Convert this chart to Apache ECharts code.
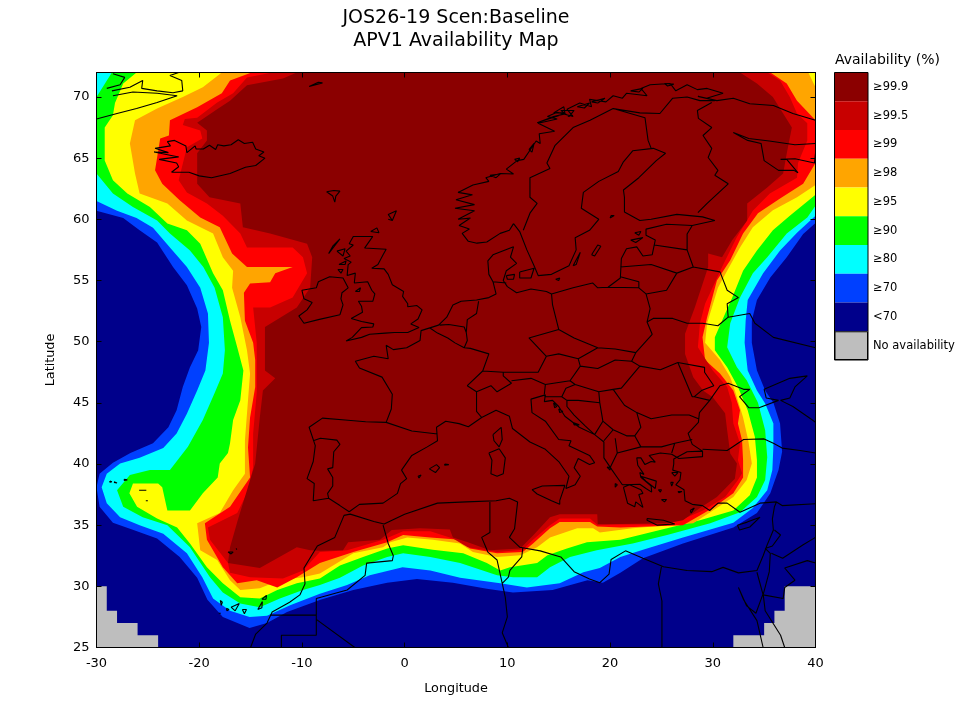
<!DOCTYPE html>
<html>
<head>
<meta charset="utf-8">
<title>APV1 Availability Map</title>
<script src="https://cdn.jsdelivr.net/npm/echarts@6/dist/echarts.min.js"></script>
<style>
html, body { margin: 0; padding: 0; background: #fff; }
#main { width: 960px; height: 720px; }
</style>
</head>
<body>
<div id="main"></div>
<script>
var lonTicks = [-30, -20, -10, 0, 10, 20, 30, 40];
var latTicks = [25, 30, 35, 40, 45, 50, 55, 60, 65, 70];

var legendLabels = ['≥99.9', '≥99.5', '≥99', '≥98', '≥95', '≥90', '≥80', '≥70', '<70', 'No availability'];
var legendColors = ['#8b0000', '#c80000', '#ff0000', '#ffa500', '#ffff00', '#00ff00', '#00ffff', '#0040ff', '#00008b', '#bebebe'];

// contour regions, lon/lat
var band70 = [[-30,60.7],[-27.4,60.1],[-25.8,59.1],[-24.1,58.1],[-22.55,56.1],[-21.2,54.6],[-20.2,52.7],[-19.8,51.2],[-20.1,49.3],[-20.9,47.9],[-21.6,46.3],[-22.2,44.4],[-23,43],[-24.5,41.7],[-26.7,40.9],[-28.4,40.1],[-29.7,39.2],[-30,38.1],[-29.7,36.5],[-28.4,35.2],[-26.4,34.6],[-24.1,33.9],[-21.9,32.4],[-20.2,30.7],[-19.2,28.9],[-17.7,27.5],[-15.1,26.6],[-13.4,27],[-11.45,27.9],[-8.2,28.9],[-5,29.7],[-1.7,30.3],[1.2,30.6],[4.7,30.3],[8,29.8],[10.55,29.5],[14.4,29.7],[17.8,30.5],[19.3,30.3],[21,31.1],[23.2,32.3],[27.1,33.5],[32,34.8],[34.3,36],[35.6,37.6],[36.4,39.5],[36.75,41],[36.55,43.3],[35.9,45],[35.1,46],[34.3,47.65],[33.8,49.9],[33.8,51.7],[34.3,53.4],[35.6,55.25],[37.2,56.9],[38.8,58.8],[40,59.7],[40,72],[-30,72]];
var band80 = [[-30,61.5],[-28,60.7],[-26.1,60.1],[-24.5,59.3],[-22.85,57.7],[-21.2,56.1],[-19.9,54.4],[-19.15,52.3],[-19.05,49.9],[-19.4,47.65],[-20.2,46],[-21.2,44.1],[-22.2,42.5],[-23.5,41.3],[-25.8,40.5],[-27.7,40.05],[-29,39.2],[-29.5,38.1],[-29,36.8],[-27.7,35.65],[-25.8,35],[-23.5,34.3],[-21.2,32.7],[-19.7,30.75],[-18.65,29],[-17,28],[-15.1,27.5],[-13.4,27.6],[-11.15,28.45],[-8.25,29.4],[-5.6,30.1],[-3.4,30.9],[-0.2,31.55],[2.5,31.3],[5.4,30.7],[9.3,30.25],[11.9,29.9],[15.1,30.25],[17.4,31.15],[19,31.5],[21,32.4],[23.2,33],[27.1,34],[32,35.2],[33.9,36.4],[35.3,37.85],[35.8,39.5],[35.9,41.4],[35.9,43.3],[35.1,44.95],[34.3,46],[33.4,47.65],[33.1,49.9],[33.2,51.7],[33.4,53.4],[34.9,55.6],[36.55,57.45],[38.2,58.9],[40,60.3],[40,72],[-30,72]];
var band90 = [[-30,63.75],[-28.4,62.1],[-26.45,61],[-24.1,59.9],[-22.85,58.85],[-20.9,57.45],[-19.6,56.1],[-18.5,54.4],[-17.7,52],[-17.5,49.3],[-17.7,47.4],[-18.5,45.8],[-19.65,43.6],[-21.1,41.4],[-22.85,39.5],[-24.8,39.5],[-26.75,39.1],[-28,37.85],[-27.4,36.5],[-25.5,35.65],[-23.1,35],[-20.9,33.2],[-18.95,30.75],[-17.7,29.5],[-16,28.6],[-14.1,28.3],[-12.15,29],[-9.9,29.7],[-8.25,30.1],[-6.3,30.7],[-4.05,31.7],[-1.7,32.4],[-0.15,32.7],[2.5,32.4],[5.4,31.9],[9,30.9],[10.55,30.75],[12.9,30.75],[14.15,31.55],[16.1,32.4],[18.7,32.95],[22.2,33.5],[25.55,34.2],[29.75,35.15],[32.65,36.05],[34.3,37.3],[35.1,38.7],[35.3,40.55],[35.1,42.75],[34.4,45],[33.3,46.85],[32.35,47.9],[31.4,49.55],[31.7,51.5],[32.65,53.6],[33.9,55.6],[35.3,56.9],[37.2,58.85],[39.2,60.15],[40,61.1],[40,72],[-28.5,72],[-30,70]];
var band95 = [[-26.1,72],[-27.4,71.1],[-28.2,69.5],[-28.4,68.5],[-29.2,67.5],[-29.2,64.8],[-28.4,63.2],[-27,62.1],[-24.8,61],[-23.1,59.65],[-21.2,59.1],[-19.9,58],[-18.65,55.6],[-17.7,54.2],[-17,51.7],[-16.3,49.55],[-15.7,47.65],[-16,45.2],[-16.7,43.6],[-17,41.7],[-17.2,40.9],[-18,40.05],[-18.2,38.9],[-19.65,37.6],[-20.9,36.2],[-23.1,36.2],[-23.6,38.1],[-24,38.4],[-26.45,38.4],[-26.8,37.6],[-26.05,36.5],[-24.1,35.55],[-22.15,34.8],[-20.9,33.5],[-19.25,31.55],[-17.7,30.25],[-16,29.1],[-14.1,29],[-12.4,29.7],[-10.5,30.25],[-8.25,30.65],[-6.3,31.7],[-4.05,32.4],[-1.7,33.1],[-0.15,33.35],[2.75,33],[5.7,32.7],[8,31.9],[9.3,31.3],[10.25,31.55],[12.9,31.9],[13.9,32.55],[15.8,33.1],[17.75,33.6],[21,33.8],[25.55,34.75],[28.75,35.4],[32,36.2],[33.6,37.45],[34.3,38.9],[34.3,40.3],[34.1,42.2],[33.4,44.4],[32.45,46.3],[31.4,47.9],[30.2,49.3],[30.2,50.35],[30.9,51.7],[31.9,53.6],[32.95,55.8],[34.3,57.45],[35.85,59.1],[37.5,60.3],[40,62],[40,72]];
var band98 = [[-17.8,72],[-19.65,70.8],[-21.6,70],[-24.1,69.05],[-26.25,68.1],[-26.75,66.2],[-26.25,63.75],[-25.8,62.1],[-23.1,61.3],[-21.2,59.9],[-18.65,58.85],[-17.7,56.9],[-16.7,55.8],[-16.8,54.4],[-16,52],[-15.35,49.3],[-15.05,47.4],[-15.25,45.2],[-15.55,41.95],[-15.55,39.2],[-16.7,37.85],[-18,36],[-20.2,35.15],[-19.9,32.95],[-18.25,32.15],[-17,30.5],[-16,29.7],[-14.1,29.85],[-12.15,30.5],[-9.9,30.75],[-8.25,31.05],[-7.25,31.55],[-5,32.7],[-2.1,33.2],[-1.4,33.6],[0.25,34],[2.75,33.8],[5.4,33.5],[6.65,32.8],[9,32.4],[11.25,32.55],[12.9,33.2],[14.15,34],[16.8,34.75],[18.35,34.75],[19,34.4],[22.2,34.75],[28.1,35.15],[29.75,36.05],[32,37.3],[33.3,38.7],[33.8,40.05],[33.45,41.95],[32.95,43.8],[32.15,46],[31.7,47.1],[30.7,48.5],[29.25,49.9],[29.45,51.5],[30.5,54.4],[31.4,55.8],[32.65,57.7],[33.9,59.35],[35.85,60.75],[38.2,61.8],[40,62.8],[40,70.8],[39.3,72]];
var band99 = [[-14.9,72],[-17,71.35],[-17.8,70.3],[-20.2,69.15],[-22.85,68.1],[-22.95,66.85],[-23.8,66.6],[-24.3,64],[-23.6,62.9],[-21.9,61.55],[-19.9,60.15],[-18,59.35],[-16.8,57.2],[-15.35,56.1],[-10.9,56.1],[-12.6,55.6],[-13.1,54.85],[-15.05,54.75],[-15.65,54],[-15.55,51.7],[-14.75,49.9],[-14.55,48.5],[-14.55,46.3],[-15.05,43.8],[-15.25,41.35],[-15.05,38.9],[-17,36.5],[-19.45,35.15],[-19.25,33.8],[-17.7,31.55],[-16.3,30.25],[-14.4,30.5],[-12.4,29.9],[-10.5,30.75],[-8.25,31.9],[-5,32.8],[-1.7,33.6],[-0.15,34.2],[2.5,34],[5.4,33.8],[6.35,33.1],[9,32.7],[11.5,32.8],[12.5,33.5],[14.15,34.75],[15.1,35.25],[18.05,35.25],[18.75,34.9],[21,34.8],[27.1,35],[28.45,35.65],[30,36.4],[32,37.6],[32.95,38.9],[32.95,40.3],[32.85,41.95],[32.45,43.3],[32.65,44.4],[32,46],[30.7,47.4],[29.25,48.5],[29,50.35],[29.45,52],[30.4,55],[31.7,56.65],[32.95,58.85],[34.4,60.5],[36.55,61.7],[38.8,62.9],[40,64.6],[40,68.1],[38.2,69.7],[37.2,71.1],[35.6,72]];
var band995 = [[-12.9,72],[-15.35,71.6],[-16.7,70.3],[-18.25,69.55],[-20.2,68.3],[-21.4,68.2],[-21.6,67.7],[-19.9,67.25],[-19.7,66.6],[-21.2,65.9],[-22,63.2],[-21.2,62.2],[-19.25,61.3],[-17.7,60.3],[-16,58.85],[-15.35,57.7],[-10.9,57.7],[-9.9,56.9],[-9.5,55.6],[-10.9,53.6],[-13.1,52.8],[-14.75,52.8],[-14.4,49.9],[-14.4,45.8],[-14.75,42.5],[-14.75,39.7],[-15.35,37.6],[-16.3,36],[-19.15,34.8],[-18.95,33.8],[-17.2,31.9],[-17,31.1],[-15.05,30.75],[-11.85,30.65],[-9.9,31.3],[-8.25,32.8],[-5.6,32.95],[-2.1,33.8],[-0.15,34.5],[2.5,34.5],[4.7,33.9],[6.15,33.2],[9,32.8],[11.5,33],[12.5,33.8],[14.15,35],[15.1,35.55],[18.05,35.55],[18.8,35],[21,35.05],[25.55,35.05],[27.5,35.65],[29.05,36.2],[31.2,37.3],[32.45,38.7],[32.85,39.25],[32.45,40.3],[32.65,41.7],[32,43.3],[31.85,45],[31.4,46.3],[30,47.65],[28.55,49.55],[28.75,51.5],[29.25,53.1],[30.9,56.1],[32.35,58.55],[33.9,60.7],[35.55,62.1],[38.2,63.4],[38.3,64.6],[39.2,66.45],[39.2,67.85],[38.2,68.65],[37.5,70],[36.55,71.35],[35.3,72]];
var band999 = [[-10.5,72],[-11.85,71.5],[-15.35,70.95],[-17,69.7],[-18.15,69.05],[-20.2,67.9],[-19.25,67.25],[-19.25,66.45],[-20.2,65.4],[-20.2,62.9],[-19,61.8],[-16,61.3],[-15.75,59.35],[-13.1,58.85],[-9.5,58],[-9,56.9],[-9.2,54.4],[-10.5,52.8],[-13.6,51.2],[-13.6,47.65],[-12.6,47],[-13.8,46],[-14.1,43.8],[-14.55,40.05],[-16.25,35.4],[-17,33.2],[-17.2,31.9],[-14.1,31.5],[-10.5,33.2],[-9.2,32.95],[-8.25,32.9],[-6,32.95],[-5.5,33.6],[-2.4,33.8],[-1.25,34.6],[1.5,34.75],[4.4,34.65],[4.7,34],[6.15,33.6],[8.3,32.95],[11.25,33.1],[12.5,34.15],[14.15,35.65],[15.1,35.9],[18.75,35.9],[18.8,35.1],[21,35.1],[25.55,35.15],[27.1,35.4],[28.75,36.4],[30.4,37.3],[32.15,38.8],[32.35,40.05],[31.7,40.85],[31.4,42.75],[31.2,44.15],[30,45.45],[29.05,46],[28.1,47.1],[27.3,49],[27.3,50.65],[28.25,52.8],[29.55,56.1],[29.55,57.2],[30.9,56.9],[31.9,58.3],[33.35,59.9],[33.35,61.3],[35.3,62.6],[36.85,63.75],[37.25,65.6],[37.7,67.5],[36.85,68.65],[35.85,70],[34.3,71.1],[32.65,72]];
var noAvailWest = [[-30,25],[-30,30],[-29,30],[-29,28],[-28,28],[-28,27],[-26,27],[-26,26],[-24,26],[-24,25]];
var noAvailEast = [[40,25],[40,30],[37,30],[37,28],[36,28],[36,27],[35,27],[35,26],[32,26],[32,25]];

var regions = [band70, band80, band90, band95, band98, band99, band995, band999, noAvailWest, noAvailEast];
var regionColors = ['#0040ff', '#00ffff', '#00ff00', '#ffff00', '#ffa500', '#ff0000', '#c80000', '#8b0000', '#bebebe', '#bebebe'];

// coastlines
var coastAtlantic = [[-5.4,36.1],[-6.3,36.6],[-7.4,37.2],[-8.9,37],[-8.8,38.4],[-9.5,38.8],[-8.9,40.2],[-8.7,41.5],[-9.3,43],[-8,43.75],[-5.8,43.6],[-3.8,43.45],[-1.8,43.4],[-1.3,44.5],[-1.2,45.7],[-2.2,47.1],[-4.4,47.85],[-4.8,48.4],[-3,48.8],[-1.6,48.6],[-1.8,49.7],[-1.1,49.35],[0.2,49.5],[1.5,50.1],[1.6,50.9],[3.3,51.35],[4.1,52],[4.7,53],[5.5,53.3],[7,53.4],[8.2,53.6],[8.9,53.9],[8.6,54.9],[8.2,55.5],[8.1,56.6],[8.6,57.1],[10.6,57.75],[10.3,56.9],[10.9,56.4],[9.9,55.8],[9.6,55],[10,54.5],[10.9,54],[12.3,54.3],[13.8,54.1],[14.3,53.9],[16.4,54.4],[18.3,54.8],[18.8,54.4],[19.8,54.45],[21,55.2],[21.1,56.8],[21.6,57.6],[22.6,57.75],[23.2,57],[24.1,57.1],[24.4,58.3],[23.5,58.7],[23.5,59.2],[25.5,59.6],[28,59.5],[30.2,59.9],[29,60.2],[26.5,60.4],[24,60],[22.9,59.9],[21.4,60.6],[21.4,61.8],[21.3,62.4],[22.8,63.4],[24.5,64.8],[25.4,65.4],[24.2,65.8],[22.2,65.6],[21.3,64.7],[20.8,63.9],[18.9,63.1],[17.4,62.2],[17.2,60.9],[18.9,60],[18,59.1],[16.6,58.5],[16.7,57.5],[16,56.2],[14.3,55.5],[13,55.4],[12.6,56.2],[11.9,57.5],[11.2,59],[10.6,59.65]];
var coastNorway = [[10.6,59.65],[10.2,59.1],[9.3,58.85],[8,58.15],[7.05,58.05],[6.2,58.2],[5.6,58.85],[6.3,59.2],[5.3,59.5],[6.4,60.1],[5.2,60],[6.8,60.7],[4.9,60.9],[6.8,61.2],[5,61.6],[6.6,62],[5.2,62.2],[6.65,62.8],[8.2,63.1],[7.9,63.4],[9.3,63.75],[10.6,63.7],[9.9,64.1],[10.95,64.8],[11.6,64.9],[12.2,65.65],[12.8,66.4],[13.2,66.2],[13.1,67],[14.6,67.2],[13,67.85],[14.85,68.2],[13.9,68.4],[14.85,68.75],[16.4,68.4],[15.8,69],[17.05,69.5],[18.2,69.2],[18,69.8],[19.6,69.6],[20.3,70.1],[21.2,69.9],[21.6,70.3],[23.6,70.1],[23,70.7],[23.9,71],[25.85,71.1],[26.4,70.5],[27.5,71],[28.5,70.6],[29.45,70.7],[31,70.3],[29.4,69.9],[28.55,70.05],[30.4,69.7],[32,69.9],[33.6,69.45],[35.9,69.3],[37.8,68.65],[40,68.1]];
var coastWhiteSea = [[40,66.2],[38,66.1],[35.5,66.4],[33.5,66.6],[32,67.1],[33.4,66.45],[34.7,66.2],[35,64.8],[36.4,64],[37.9,64],[38.3,63.8],[37.2,64.9],[36.6,64.9],[38,64.95],[39.9,64.6],[40,65.4]];
var coastMed = [[-5.4,36.1],[-4.4,36.7],[-2.1,36.8],[-0.7,37.6],[-0.4,38.4],[0.2,38.8],[-0.3,39.5],[0.7,40.7],[2.2,41.4],[3.2,41.9],[3.1,43],[4,43.5],[5.3,43.3],[6.2,43.05],[7.5,43.8],[8.9,44.4],[10.2,43.9],[10.5,42.9],[12.2,41.8],[13.7,41.2],[15,40.2],[16,39],[15.7,38],[16.6,38.3],[17.1,39],[16.5,39.7],[16.9,40.45],[18,39.95],[18.5,40.1],[18,40.7],[16,41.5],[16.2,41.9],[15,42],[13.7,43.5],[12.4,44.2],[12.3,45.3],[13.7,45.65],[13.6,45.1],[14.4,45.2],[15,44.7],[15.6,43.9],[17,43],[18.5,42.4],[19.4,41.8],[19.4,40.5],[20.2,39.5],[20.7,38.9],[21.2,38.3],[22.9,38.35],[23.5,38],[24.05,37.7],[24,38.2],[23,38.9],[22.9,39.3],[23.3,39.15],[22.7,39.9],[22.6,40.5],[23,40.5],[23.4,39.95],[24,40.2],[24.4,40.15],[23.8,40.7],[24.9,40.9],[26,40.8],[26.7,40.45],[29,40.6],[29,41.05],[27.5,41],[26.2,40.4],[26.2,40],[26.1,39.5],[26.9,39.3],[26.8,38.7],[26.4,38.3],[27.2,37.9],[27.3,37],[28,36.7],[29,36.6],[29.7,36.2],[30.5,36.8],[31.4,36.8],[32.65,36.05],[34.6,36.8],[36.2,36.9],[36,36.5],[35.8,35.5],[35.9,34.6],[35.3,33.4],[34.9,32.5],[34.3,31.3],[32.5,31.1],[31,31.55],[29.9,31.2],[27.5,31.3],[25.2,31.6],[23.2,32.3],[21.5,32.9],[20.1,32.2],[19.9,31],[19,30.3],[18,30.6],[16.5,31.2],[15.2,32.4],[13.2,32.9],[11.2,33.2],[10.2,34],[10.7,34.7],[11,36.9],[10.2,37.2],[8.9,37],[6,36.9],[3.2,36.8],[0,35.9],[-2,35.1],[-3,35.3],[-5.3,35.9],[-5.9,35.8],[-6.8,34],[-8.5,33.3],[-9.8,31.5],[-9.7,30.2],[-10.2,29.3],[-11.2,28.7],[-12.9,27.9],[-13.4,27],[-14.5,26.1],[-15,25]];
var coastBlackSea = [[29,41.05],[28,41.6],[27.6,42.5],[28.6,43.4],[28.7,44.2],[29.7,45.2],[30.7,46.4],[31.5,46.6],[33,46.1],[33.6,46.1],[32.6,45.5],[33.5,44.6],[34.5,44.6],[36.4,45.2],[35.2,45.4],[35,46.1],[37.5,47],[39.2,47.2],[38,46.3],[37.5,45.4],[36.6,45.2],[37.8,44.7],[39.7,43.6],[40,43.4]];
var coastTurkeyNorth = [[29,41.2],[31.4,41.1],[33,42],[35,42.05],[35.9,41.7],[36.75,41.3],[38.5,41.1],[40,40.9]];
var coastRedSea = [[32.5,29.9],[33,28.9],[34.3,27.2],[34.9,25]];
var coastSinai = [[32.5,29.9],[33.3,28.4],[34.2,27.8],[34.9,29.4],[35.1,28],[36.6,26],[37,25]];
var iceland = [[-22.7,63.85],[-21,63.85],[-20,63.55],[-18.8,63.4],[-17,63.75],[-15.5,64.25],[-14.5,64.4],[-13.6,65],[-14.2,65.2],[-13.7,65.5],[-14.5,65.75],[-14.8,66.3],[-15.6,66.2],[-16.2,66.5],[-16.9,66.1],[-17.6,66],[-18.2,66.1],[-18.4,65.7],[-19,66.05],[-19.6,65.75],[-20.3,65.75],[-20.4,66],[-21.2,65.45],[-21.3,66],[-22.4,66.45],[-23.1,66.35],[-22.8,66],[-24.3,65.8],[-23,65.45],[-24.4,65.5],[-22,65.1],[-23.9,64.9],[-22.2,64.6],[-22,64.3],[-22.7,63.85]];
var britain = [[-5.7,50.05],[-4.2,50.35],[-3.4,50.6],[-1.9,50.7],[-1,50.75],[0.3,50.75],[1.4,51.15],[0.6,51.45],[1.3,51.85],[1.7,52.6],[1.2,52.95],[0.3,52.85],[0.3,53.1],[-0.2,53.7],[-0.1,54.1],[-1.2,54.65],[-1.6,55.5],[-2,55.95],[-3.2,56],[-2.6,56.3],[-2.1,57.1],[-1.8,57.55],[-3.9,57.65],[-3.1,58.6],[-5,58.6],[-5.4,58],[-5,57.9],[-5.7,57.4],[-5.3,57],[-5.9,56.8],[-5.2,56.5],[-5.5,56.3],[-5.6,55.4],[-4.8,55.6],[-4.9,54.8],[-3.6,54.9],[-3.2,54.2],[-2.9,53.9],[-3.1,53.3],[-4.5,53.3],[-4.2,52.9],[-4.1,52.4],[-5.2,51.9],[-4.2,51.65],[-3,51.45],[-3.1,51.2],[-4.2,51.15],[-5.1,50.35],[-5.7,50.05]];
var ireland = [[-6.3,52.2],[-6,53],[-6.2,53.5],[-6.1,54],[-5.5,54.4],[-6,55.2],[-7.3,55.3],[-8.4,54.9],[-8.6,54.4],[-10,54.2],[-9.8,53.5],[-9,53.2],[-9.5,52.6],[-10.3,52.1],[-9.8,51.5],[-8.4,51.8],[-6.3,52.2]];
var greenland = [[-30,68.2],[-28,68.65],[-26.1,69.05],[-24.1,69.55],[-22.15,70.1],[-24.1,70.3],[-26.45,70.4],[-28.4,70.1]];
var greenlandFjord = [[-28.5,70.5],[-26.75,70.8],[-25.5,71.35],[-25.6,70.7],[-24.1,70.5],[-22.55,70.35],[-21.6,70.5],[-21.7,71.35],[-22.85,71.75],[-22,72]];
var greenlandIsle = [[-28.4,71.9],[-27.25,71.6],[-27.7,71],[-29,70.7]];
var smallIslands = [
	[[-9.3,70.85],[-8,71.15],[-8.4,71.2],[-9.3,70.85]],
	[[-7.6,62.25],[-6.9,62.35],[-6.3,62.3],[-6.7,61.9],[-6.8,61.4],[-7,61.9],[-7.6,62.25]],
	[[-1.6,60],[-1.2,59.9],[-0.8,60.7],[-1.6,60.4],[-1.2,59.9]],
	[[-3.3,59],[-2.7,59.3],[-2.5,58.9],[-3.3,59]],
	[[-7.4,57.2],[-6.3,58.4],[-7,57.8],[-7.4,57.2]],
	[[-6.6,57.4],[-5.8,57.6],[-6,57],[-6.6,57.4]],
	[[-6.4,56.3],[-5.7,56.6],[-5.8,56.3],[-6.4,56.3]],
	[[-6.5,55.9],[-6,55.9],[-6.2,55.6],[-6.5,55.9]],
	[[-4.8,54.1],[-4.3,54.4],[-4.4,54.1],[-4.8,54.1]],
	[[11.2,55.7],[12.6,56],[12.3,55.2],[11.2,55.2],[11.2,55.7]],
	[[9.9,55.4],[10.7,55.5],[10.6,55.1],[10,55.1],[9.9,55.4]],
	[[14.7,55.1],[15.1,55.2],[15,55],[14.7,55.1]],
	[[18.2,57.1],[18.8,57.9],[19.1,57.8],[18.5,57],[18.2,57.1]],
	[[16.4,56.2],[17.1,57.3],[16.7,56.3],[16.4,56.2]],
	[[22,58.3],[23.2,58.5],[22.5,58.1],[22,58.3]],
	[[22.4,58.9],[23,59],[22.8,58.7],[22.4,58.9]],
	[[20,60.1],[20.4,60.3],[20.1,60.3],[20,60.1]],
	[[8.3,63.6],[9.3,63.7],[8.9,63.4],[8.3,63.6]],
	[[10.7,64.9],[11.2,65],[11,64.7],[10.7,64.9]],
	[[12.1,65.7],[12.6,66.2],[12.4,65.5],[12.1,65.7]],
	[[12.9,67.9],[14,68.2],[15.5,68.6],[14.5,68.4],[12.9,67.9]],
	[[14.5,68.7],[15.5,69.2],[15.6,68.7],[14.5,68.7]],
	[[15.2,68.9],[16.5,68.9],[16,68.4],[15.2,68.9]],
	[[16.8,69.2],[18,69.5],[17.5,69.1],[16.8,69.2]],
	[[18.2,69.6],[19.5,69.9],[18.8,69.5],[18.2,69.6]],
	[[22,70.5],[23.2,70.7],[22.8,70.4],[22,70.5]],
	[[25.3,71.1],[26.2,71.05],[25.6,70.9],[25.3,71.1]],
	[[12.4,37.9],[13.4,38.2],[15.6,38.25],[15.1,37],[15.1,36.7],[14.3,37],[12.9,37.55],[12.4,37.9]],
	[[8.2,40.9],[9.2,41.25],[9.8,40.5],[9.6,39.2],[9,39],[8.4,39.2],[8.5,40.3],[8.2,40.9]],
	[[8.6,42.4],[9.4,43],[9.5,42],[9.2,41.4],[8.7,41.9],[8.6,42.4]],
	[[2.4,39.6],[3.1,39.95],[3.4,39.7],[3,39.3],[2.4,39.6]],
	[[3.9,40],[4.3,39.95],[3.9,39.9],[3.9,40]],
	[[1.3,39],[1.6,39.1],[1.4,38.85],[1.3,39]],
	[[21.3,38.1],[21.7,36.8],[22.4,36.5],[22.5,36.9],[23.2,36.45],[22.8,37.5],[23.2,37.6],[23,37.9],[21.9,38.3],[21.3,38.1]],
	[[23.6,35.55],[25.2,35.4],[26.3,35.1],[24.6,35],[23.6,35.4],[23.6,35.55]],
	[[32.4,35],[33.35,35.25],[34.6,35.65],[33.6,34.85],[32.6,34.6],[32.4,35]],
	[[27.8,36.2],[28.2,36.4],[27.9,36],[27.8,36.2]],
	[[26,39.3],[26.6,39.3],[26.3,39],[26,39.3]],
	[[25.9,38.5],[26.15,38.5],[26,38.2],[25.9,38.5]],
	[[26.6,37.75],[27,37.75],[26.7,37.65],[26.6,37.75]],
	[[23,39],[24.5,38.6],[24.4,38],[23.5,38.6],[23,39]],
	[[19.7,39.75],[20,39.7],[20,39.5],[19.7,39.75]],
	[[20.5,38.4],[20.7,38.3],[20.5,38.1],[20.5,38.4]],
	[[25,37.1],[25.5,37.1],[25.3,36.9],[25,37.1]],
	[[24.7,37.9],[25,37.9],[24.9,37.7],[24.7,37.9]],
	[[14.5,45],[14.8,44.7],[14.6,44.6],[14.5,45]],
	[[15,44.5],[15.4,44.3],[15.1,44.2],[15,44.5]],
	[[16.4,43.4],[17,43.2],[16.5,43.2],[16.4,43.4]],
	[[-28.3,38.55],[-28.0,38.45],[-28.3,38.5],[-28.3,38.55]],
	[[-28.7,38.6],[-28.5,38.55],[-28.7,38.5],[-28.7,38.6]],
	[[-27.3,38.75],[-27,38.7],[-27.3,38.65],[-27.3,38.75]],
	[[-25.85,37.85],[-25.15,37.85],[-25.2,37.7],[-25.85,37.85]],
	[[-25.2,37],[-25,37],[-25.1,36.9],[-25.2,37]],
	[[-17.2,32.8],[-16.7,32.8],[-16.9,32.65],[-17.2,32.8]],
	[[-16.4,33.1],[-16.3,33.1],[-16.35,33],[-16.4,33.1]],
	[[-17.95,28.85],[-17.75,28.7],[-17.85,28.45],[-17.95,28.85]],
	[[-17.35,28.2],[-17.1,28.1],[-17.3,28],[-17.35,28.2]],
	[[-16.9,28.3],[-16.1,28.6],[-16.5,28],[-16.9,28.3]],
	[[-15.8,28.1],[-15.4,28.1],[-15.6,27.75],[-15.8,28.1]],
	[[-14.3,28.1],[-13.85,28.75],[-13.9,28.25],[-14.3,28.1]],
	[[-13.9,28.95],[-13.45,29.25],[-13.5,28.95],[-13.9,28.95]],
	[[-18.1,27.8],[-17.9,27.8],[-18,27.65],[-18.1,27.8]]
];

// borders
var borders = [
	[[-8.9,41.9],[-8.2,42.1],[-6.6,41.95],[-6.3,41.6],[-6.9,41],[-7,39.7],[-7.5,39.6],[-7,38.9],[-7,38.2],[-7.5,37.6],[-7.4,37.2]],
	[[-1.8,43.4],[0.7,42.7],[3.2,42.45]],
	[[2.5,51.1],[3.2,50.7],[4.2,50.3],[4.9,49.9],[5.8,49.5],[6.4,49.45],[8.2,49],[7.6,47.6],[6.1,46.4],[7,45.9],[7,44.3],[7.5,43.8]],
	[[5.8,49.5],[6.1,50.1],[6,50.75],[5.8,51.2],[4.3,51.4],[3.4,51.35]],
	[[6,50.75],[6.1,51.8],[7,52.3],[7.2,53.3]],
	[[8.6,54.9],[9.9,54.8]],
	[[14.3,53.9],[14.4,53],[14.7,52],[15,51],[12.1,50.3],[13.8,48.8],[13,47.5],[10.5,47.5],[9.6,47.5],[7.6,47.6]],
	[[7,45.9],[8.4,46.4],[9,45.9],[10.4,46.6],[9.6,47.2],[9.6,47.5]],
	[[10.4,46.8],[12.3,47],[13.7,46.5],[13.6,45.7]],
	[[13.7,46.5],[16.1,46.8],[17.1,48],[16.9,48.6],[15,49],[13.8,48.8]],
	[[15,51],[16.5,50.3],[18.8,49.5],[16.9,48.6]],
	[[18.8,49.5],[20.5,49.4],[22.5,49.1],[24.1,50.6],[23.6,51.6],[23.9,52.7],[23.5,53.9],[22.8,54.4],[19.8,54.45]],
	[[17.1,48],[18.8,47.8],[20.5,48.5],[22.1,48.4],[22.5,49.1]],
	[[21,55.3],[22.8,54.9],[22.8,54.4]],
	[[23.5,53.9],[25.5,54.2],[26.5,55.6],[28.1,56.1],[30.7,55.7],[31.4,54.2],[32.5,53.6],[31.4,53.1],[31.5,52],[33.6,52.3],[34.1,51.5],[35.9,50.35],[40,49.5]],
	[[21,56.1],[24,56.3],[26.5,55.6]],
	[[28.1,56.1],[27.5,57.5],[27.5,58.8],[28,59.5]],
	[[24.3,57.9],[27.5,57.5]],
	[[23.6,51.6],[24.2,51.9],[26.1,51.9],[27.5,51.5],[29,51.5],[30.5,51.3],[31.5,52]],
	[[22.1,48.4],[22.9,48],[24.9,47.7],[26.6,48.3],[28,45.5],[28.2,45.5],[29.7,45.2]],
	[[26.6,48.3],[29.2,47.9],[29.2,47.5],[30.1,46.4],[28.9,46],[28.2,45.5]],
	[[22.9,48],[21.1,46.2],[20.3,46.1],[21.4,44.8],[22.6,44.2],[24,43.7],[26,44],[27.7,44],[28.6,43.7]],
	[[22.6,44.2],[23,43],[22.4,42.3],[23,41.4],[25,41.4],[26.3,41.7],[28,42]],
	[[26.3,41.7],[26,40.9]],
	[[20.3,46.1],[18.9,45.9],[16.6,46.5],[16.1,46.8]],
	[[16.6,46.5],[15.7,46.2],[15.3,45.5],[13.6,45.5]],
	[[15.3,45.5],[15.8,45.2],[16.9,45.2],[19,45],[18.9,45.9]],
	[[15.8,45.2],[15.8,44.7],[16.5,44],[17.6,43.1],[18.5,42.4]],
	[[19,45],[19.3,43.5],[18.5,42.4]],
	[[19.3,43.5],[20.3,42.8],[19.4,41.9]],
	[[20.3,42.8],[21.6,42.3],[22.4,42.3]],
	[[20.5,42.1],[20.7,40.9],[20,39.7]],
	[[20.7,40.9],[23,41.4]],
	[[20.3,69.05],[18.05,68.1],[16.4,67.5],[14.65,66.05],[13.85,64.6],[14.15,64.15],[12.2,63.4],[12.2,61.8],[12.9,61.3],[12.2,60.5],[11.55,59.1]],
	[[20.3,69.05],[22.9,68.7],[24.85,68.65],[26.1,69.9],[27.5,70],[28.75,69.7],[30.2,69.7]],
	[[20.3,69.05],[23.4,68.3],[23.7,66.45],[24,65.8]],
	[[29.9,69.55],[28.5,68.9],[28.6,68.25],[29.9,67.5],[29.05,66.85],[29.9,65.8],[29.55,65.05],[30.5,64],[30.2,63.6],[31.5,62.9],[29.45,61.3],[28.55,60.55]],
	[[-2.1,35],[-1.6,33.5],[-1.1,32.5],[-1.2,32.1],[-3.7,31.9],[-3.85,30.9],[-5.6,29.7],[-8.6,29],[-8.6,26],[-12,26],[-12,25]],
	[[-8.6,27.3],[-4.85,25]],
	[[-13.1,27.65],[-8.6,27.65]],
	[[8.3,36.9],[8.3,34.4],[7.5,34],[8.1,32.8],[9,32.15],[9.5,30.25],[9.8,29.1],[10,27.5],[9.5,26.2],[10.1,25]],
	[[11.5,33.1],[11.4,32.4],[10.25,31.3],[10.1,30.75],[9.5,30.25]],
	[[25,31.6],[24.7,30.2],[25.05,28.8],[25.05,25]],
	[[34.3,31.15],[34.9,29.3]],
	[[34.9,29.3],[35.5,31.2],[35.6,32.7],[35.1,33.1]],
	[[35.1,33.1],[35.8,33.3],[36.6,34.2],[36,34.6]],
	[[35.7,32.7],[36.8,32.3],[38.8,33.4],[40,34]],
	[[34.9,29.3],[36.85,29],[37,29.9],[38,30.5],[37,31.5],[39.2,32.1],[40,31.9]],
	[[36.2,36.9],[36.75,36.6],[40,36.75]]
];

var coastPaths = [coastAtlantic, coastNorway, coastWhiteSea, coastMed, coastBlackSea, coastTurkeyNorth, coastRedSea, coastSinai, iceland, britain, ireland, greenland, greenlandFjord, greenlandIsle].concat(smallIslands).concat(borders);

// one line series, paths split by empty points
var mapLines = [];
for(var i = 0; i < coastPaths.length; i++) {
	mapLines = mapLines.concat(coastPaths[i]);
	mapLines.push(['-', '-']);
}

var legendData = [];
for(var j = 0; j < legendLabels.length; j++) {
	legendData.push({
		value: 1,
		itemStyle: {
			color: legendColors[j],
			borderColor: j == 9 ? '#000' : legendColors[j],
			borderWidth: j == 9 ? 1 : 0
		}
	});
}

var fontName = '"DejaVu Sans", Verdana, sans-serif';

function mapAxisLine() {
	return { show: true, onZero: false, lineStyle: { color: '#000', width: 1 } };
}

var myChart = echarts.init(document.getElementById('main'));
var option = {
	animation: false,
	backgroundColor: '#fff',
	textStyle: { fontFamily: fontName, color: '#000' },
	title: [{
		text: 'JOS26-19 Scen:Baseline',
		left: 456,
		top: 9,
		padding: 0,
		textAlign: 'center',
		textStyle: { fontFamily: fontName, fontSize: 19, fontWeight: 'normal', color: '#000' }
	}, {
		text: 'APV1 Availability Map',
		left: 456,
		top: 32,
		padding: 0,
		textAlign: 'center',
		textStyle: { fontFamily: fontName, fontSize: 19, fontWeight: 'normal', color: '#000' }
	}, {
		text: 'Availability (%)',
		left: 835,
		top: 53,
		padding: 0,
		textStyle: { fontFamily: fontName, fontSize: 14, fontWeight: 'normal', color: '#000' }
	}],
	grid: [{
		show: true,
		backgroundColor: '#00008b',
		borderWidth: 0,
		left: 96.5,
		top: 72.5,
		width: 719,
		height: 575
	}, {
		left: 834.5,
		top: 72.5,
		width: 33.5,
		height: 287.5
	}],
	xAxis: [{
		type: 'value',
		gridIndex: 0,
		min: -30,
		max: 40,
		interval: 10,
		z: 10,
		position: 'bottom',
		axisLine: mapAxisLine(),
		axisTick: { show: true, inside: true, length: 5, lineStyle: { color: '#000' }, customValues: lonTicks },
		axisLabel: { color: '#000', fontSize: 13, margin: 10, customValues: lonTicks },
		splitLine: { show: false },
		name: 'Longitude',
		nameLocation: 'middle',
		nameGap: 35,
		nameTextStyle: { color: '#000', fontSize: 12.8 }
	}, {
		type: 'value',
		gridIndex: 0,
		min: -30,
		max: 40,
		interval: 10,
		z: 10,
		position: 'top',
		axisLine: mapAxisLine(),
		axisTick: { show: true, inside: true, length: 5, lineStyle: { color: '#000' }, customValues: lonTicks },
		axisLabel: { show: false },
		splitLine: { show: false }
	}, {
		type: 'value',
		gridIndex: 1,
		min: 0,
		max: 1,
		show: false
	}],
	yAxis: [{
		type: 'value',
		gridIndex: 0,
		min: 25,
		max: 72,
		interval: 5,
		z: 10,
		position: 'left',
		axisLine: mapAxisLine(),
		axisTick: { show: true, inside: true, length: 5, lineStyle: { color: '#000' }, customValues: latTicks },
		axisLabel: { color: '#000', fontSize: 13, margin: 7, customValues: latTicks },
		splitLine: { show: false },
		name: 'Latitude',
		nameLocation: 'middle',
		nameGap: 39,
		nameTextStyle: { color: '#000', fontSize: 12.8 }
	}, {
		type: 'value',
		gridIndex: 0,
		min: 25,
		max: 72,
		interval: 5,
		z: 10,
		position: 'right',
		axisLine: mapAxisLine(),
		axisTick: { show: true, inside: true, length: 5, lineStyle: { color: '#000' }, customValues: latTicks },
		axisLabel: { show: false },
		splitLine: { show: false }
	}, {
		type: 'category',
		gridIndex: 1,
		inverse: true,
		position: 'right',
		data: legendLabels,
		axisLine: { show: false },
		axisTick: { show: false },
		axisLabel: { color: '#000', fontSize: 11.5, margin: 5 },
		splitLine: { show: false }
	}],
	graphic: [{
		type: 'rect',
		z: 100,
		shape: { x: 834.5, y: 72.5, width: 33.5, height: 287.5 },
		style: { fill: 'transparent', stroke: '#000', lineWidth: 1 }
	}],
	series: [{
		type: 'custom',
		xAxisIndex: 0,
		yAxisIndex: 0,
		clip: true,
		z: 2,
		silent: true,
		data: regions.map(function(r, idx) { return [r[0][0], r[0][1], idx]; }),
		renderItem: function(params, api) {
			var poly = regions[params.dataIndex];
			var points = [];
			for(var k = 0; k < poly.length; k++) {
				points.push(api.coord(poly[k]));
			}
			return {
				type: 'polygon',
				shape: { points: points },
				style: { fill: regionColors[params.dataIndex], stroke: null }
			};
		}
	}, {
		type: 'line',
		xAxisIndex: 0,
		yAxisIndex: 0,
		z: 5,
		silent: true,
		symbol: 'none',
		showSymbol: false,
		connectNulls: false,
		lineStyle: { color: '#000', width: 1.1 },
		data: mapLines
	}, {
		type: 'bar',
		xAxisIndex: 2,
		yAxisIndex: 2,
		barWidth: '100%',
		silent: true,
		data: legendData
	}]
};
myChart.setOption(option);
</script>
</body>
</html>
